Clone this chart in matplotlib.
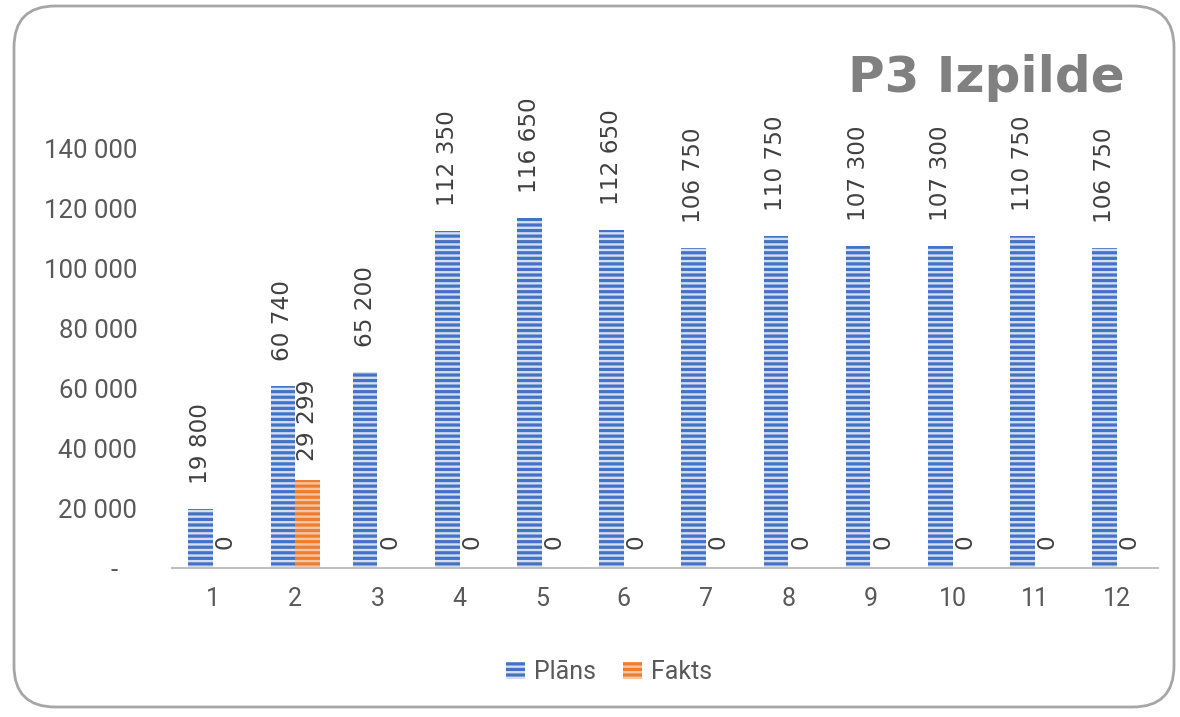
import matplotlib
matplotlib.use("Agg")
import matplotlib.pyplot as plt
import numpy as np
from matplotlib.patches import FancyBboxPatch, Patch
from matplotlib.ticker import FuncFormatter

categories = ["1", "2", "3", "4", "5", "6", "7", "8", "9", "10", "11", "12"]
plans = [19800, 60740, 65200, 112350, 116650, 112650, 106750, 110750, 107300, 107300, 110750, 106750]
fakts = [0, 29299, 0, 0, 0, 0, 0, 0, 0, 0, 0, 0]
series_names = ["Plāns", "Fakts"]
title = "P3 Izpilde"
yticks = [0, 20000, 40000, 60000, 80000, 100000, 120000, 140000]

plt.rcParams["hatch.linewidth"] = 2.3
plt.rcParams["font.family"] = ["Roboto", "DejaVu Sans"]

fig = plt.figure(figsize=(11.8, 7.17), dpi=100)
ax = fig.add_axes([172/1180, (717-568)/717, (1158-172)/1180, (568-88)/717])

x = np.arange(len(categories))
w = 0.3
bp = ax.bar(x - w/2, plans, width=w, facecolor="#d5dff3", edgecolor="#4472c4",
            linewidth=0, hatch="---")
bf = ax.bar(x + w/2, fakts, width=w, facecolor="#f8c6a0", edgecolor="#ed7d31",
            linewidth=0, hatch="---")

def fmt(v):
    return f"{int(round(v)):,}".replace(",", " ")

lab_kw = dict(textcoords="offset points", rotation=90, ha="center", va="bottom",
              fontsize=16.7, color="#404040", family="DejaVu Sans")
for xi, v in zip(x - w/2, plans):
    ax.annotate(fmt(v), (xi, v), xytext=(0, 18), **lab_kw)
for xi, v in zip(x + w/2, fakts):
    ax.annotate(fmt(v), (xi, v), xytext=(0, 14), **lab_kw)

ax.set_xlim(-0.5, len(categories) - 0.5)
ax.set_ylim(0, 160000)
ax.set_yticks(yticks)
ax.yaxis.set_major_formatter(FuncFormatter(lambda v, p: "-   " if v == 0 else fmt(v)))
ax.set_xticks(x)
ax.set_xticklabels(categories)
ax.tick_params(axis="y", length=0, pad=25, labelsize=18.5, labelcolor="#595959")
ax.tick_params(axis="x", length=0, pad=14, labelsize=18, labelcolor="#595959")
for s in ["top", "right", "left"]:
    ax.spines[s].set_visible(False)
ax.spines["bottom"].set_color("#bfbfbf")
ax.spines["bottom"].set_linewidth(1.5)

fig.text(1125/1180, (717-92)/717, title, ha="right", va="baseline",
         fontsize=36, fontweight="bold", color="#808080", family="DejaVu Sans")

handles = [Patch(facecolor="#d5dff3", edgecolor="#4472c4", linewidth=0, hatch="---"),
           Patch(facecolor="#f8c6a0", edgecolor="#ed7d31", linewidth=0, hatch="---")]
leg = fig.legend(handles, series_names, loc="center", bbox_to_anchor=(609/1180, (717-672)/717),
                 ncol=2, frameon=False, fontsize=18, handlelength=0.75, handleheight=0.7,
                 handletextpad=0.35, columnspacing=1.1)
for t in leg.get_texts():
    t.set_color("#595959")

border = FancyBboxPatch((14/1180, 10/717), (1174-14)/1180, (711-10)/717,
                        boxstyle="round,pad=0,rounding_size=0.035",
                        transform=fig.transFigure, facecolor="none",
                        edgecolor="#a6a6a6", linewidth=2, mutation_aspect=1180/717)
fig.patches.append(border)

fig.savefig("out.png", dpi=100)
